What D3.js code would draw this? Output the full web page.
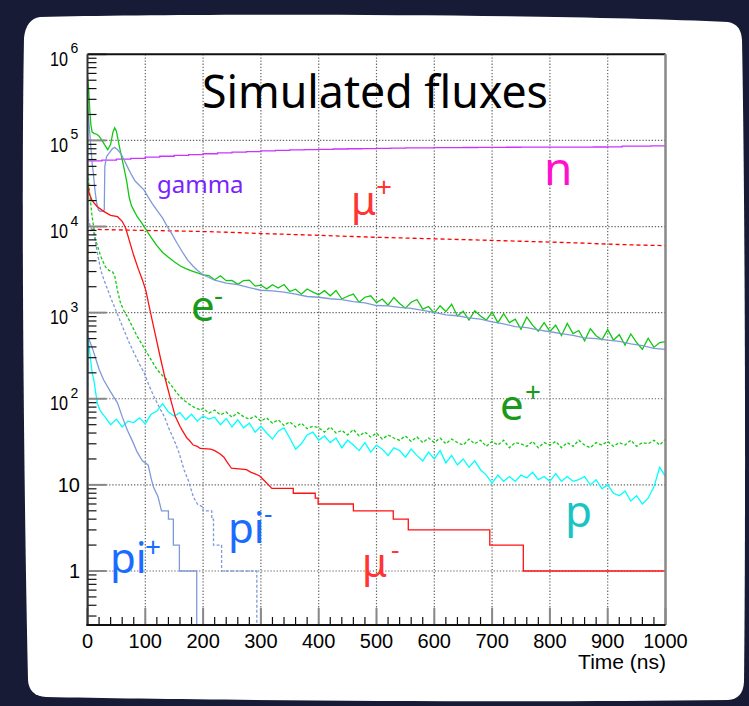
<!DOCTYPE html>
<html>
<head>
<meta charset="utf-8">
<script src="https://cdn.jsdelivr.net/npm/d3@7"></script>
<style>
body{margin:0;background:#171b35;}
svg{display:block;}
</style>
</head>
<body>
<div id="chart"></div>
<script>
// ---- data (time in ns, flux per bin) ----
var nTime=[0,25,50,75,100,125,150,175,200,225,250,275,300,325,350,375,400,425,450,475,500,525,550,575,600,625,650,675,700,725,750,775,800,825,850,875,900,925,950,975,1000];
var nVal=[58000,59000,60500,62000,64000,65500,67000,68500,70000,71500,73000,74000,75500,76500,77500,78000,78800,79500,80000,80500,81000,81400,81800,82100,82400,82600,82800,83000,83200,83300,83400,83500,83600,83700,83800,83900,84000,86000,86000,86200,86200];

var muPlusTime=[0,50,100,150,200,250,300,350,400,450,500,550,600,650,700,750,800,850,900,950,1000];
var muPlusVal=[9300,9150,9000,8900,8750,8550,8300,8100,7900,7700,7500,7350,7200,7050,6900,6750,6600,6450,6250,6100,6000];

var eMinusEarlyTime=[0,2,4,6,8,12,16,20,25,30,35,40,44,47,50,53,56,60,64,68,72,76,80,86,92,98,104,110,120,130,140,150,160,170,180,190,200];
var eMinusEarlyVal=[560000,400000,220000,150000,125000,120000,118000,112000,100000,88000,78000,90000,125000,140000,128000,100000,80000,60000,45000,33000,22000,17500,15500,13000,11500,10000,8600,7500,6000,5000,4400,3900,3500,3250,3050,2900,2750];
// 10 ns bins from 210 to 1000
var eMinusTail=[2700,2410,2680,2350,2370,2130,2360,2390,2030,2090,
  1890,2110,1930,2120,1760,1870,1640,1880,1730,1610,
  1800,1570,1810,1440,1550,1640,1320,1510,1570,1310,
  1440,1220,1500,1275,1125,1320,1420,1100,1180,985,
  1205,1030,1250,915,1040,820,1050,915,820,1010,
  765,975,765,840,640,890,715,610,765,605,
  715,540,750,570,620,470,650,540,485,635,
  480,555,420,565,450,375,505,395,450,460];

var gammaEarlyTime=[0,2,4,6,8,10,13,16,19,22,26,29,30,33,38,43,47,52,58,64,70,76,82,90,98,105,112,120,130,138,146,155,164,173,182,190,200];
var gammaEarlyVal=[250000,180000,120000,80000,55000,42000,26000,18500,15500,15000,15000,15500,50000,65000,72000,80000,83000,78000,70000,58000,48000,40000,34000,30000,26500,22000,18500,15500,12500,10000,8200,6400,5100,4100,3500,3100,2750];
// 20 ns bins from 220 to 1000
var gammaTail=[2380,2200,2120,1950,1820,1790,1730,1640,1540,1510,
  1450,1420,1340,1300,1210,1200,1150,1120,1060,1010,
  940,920,870,840,780,740,690,670,630,600,
  570,545,510,500,480,465,435,415,385,375];

var muMinusTime=[0,3,8,17,28,40,52,60,66,72,80,88,95,101,109,118,127,135,144,152,160,164,172,176,183,190,195,213,220,229,236,241,249,275,283,290,298,307,319,356,356,394,394,399,399,460,460,529,529,555,555,696,696,754,754,1000];
var muMinusVal=[32000,24000,20000,17000,15000,13500,13000,11500,9600,7000,4600,3200,2400,1800,1000,530,280,165,97,62,48,43,35,33,29,28,26.5,26,25,23,21,18.6,15.6,15,14,13.4,12.7,11,9.1,9.1,8,8,7,7,6,6,5,5,4,4,3,3,2,2,1,1];

var piPlusTime=[0,10,20,28,40,52,60,69,78,86,95,100,105,110,114,122,128,140,140,148.5,148.5,159,159,189,189];
var piPlusVal=[550,360,220,165,120,89,62,43,32,24,19,18,17,12,9.5,7.3,5,5,4,4,2,2,1,1,0];

var piMinusTime=[0,5,11,17,23,28.5,40,52,63,72,80.5,89,98,106,115,124,133,141,150,158,167,175,183,190,200,200,215,215,218,218,232,232,293,293];
var piMinusVal=[13000,10000,8300,5000,3100,2400,1500,950,630,450,340,260,200,145,106,80,62,45,33,24,15,11,7.3,6,5.5,5,5,4,4,2,2,1,1,0];

var ePlusEarlyTime=[0,3,8,14,23,31,37,43,47,52,57,63,69,77,86,95,103,112,121,130,138,146,155,164,173,184,196];
var ePlusEarlyVal=[50000,27000,13000,7000,4500,3400,3100,3000,2700,1800,1300,1050,900,700,530,420,340,270,215,185,165,140,116,100,89,80,74];
// 10 ns bins from 200 to 1000
var ePlusTail=[78,68,74,65,70,61,69,62,58,63,
  55,60,52,57,49,54,47,52,45,48,
  46,41,47,40,43,38,44,37,41,36,
  40,34,38,35,33,37,32,36,31,35,
  31,35,30,34,31,29,34,30,33,28,
  32,29,33,27,31,30,28,32,27,31,
  29,32,27,31,28,33,29,27,31,29,
  32,28,31,29,33,28,31,30,33,29,34];

var pEarlyTime=[0,4,8,11,14,17,21,25];
var pEarlyVal=[580,340,200,165,120,89,75,68];
// 10 ns bins from 30 to 1000
var pTail=[62,50,58,47,55,53,60,51,66,72,
  88,70,63,69,57,66,55,63,58,61,
  50,59,47,57,46,52,41,48,40,34,
  42,46,35,26,30,38,41,33,37,31,
  35,27,33,29,25,31,24,29,26,22,
  27,25,21,26,22,19,24,20,25,18,
  22,17,20,16,19,15,13,10.5,13,11,
  12.5,11,13,12,14,11.5,12.5,11,13.5,11,
  12.5,11,11.5,12.5,10,11.5,9,10,8,7.5,
  8.5,6.5,7.5,6,7,9.5,16,12.5];

var xTicks=[0,100,200,300,400,500,600,700,800,900,1000];
var yDecades=[1,10,100,1000,10000,100000,1000000];

// ---- layout ----
var W=749,H=706;
var pL=87.5,pR=665.5,pT=54.3,pB=625;
var yMin=0.236,yMax=1e6;

var x=d3.scaleLinear().domain([0,1000]).range([pL,pR]);
var y=d3.scaleLog().domain([yMin,yMax]).range([pB,pT]);
function yv(v){return y(v<yMin?yMin:v);}

var svg=d3.select("#chart").append("svg").attr("width",W).attr("height",H);

// card
svg.append("path")
  .attr("d","M40,17 C200,13 560,14 728,22 Q741,24 742,40 C745,200 746,500 744,682 Q743,699 728,700 C500,703 200,700 46,697 Q29,696 28,680 C24,500 21,200 24,38 Q26,19 40,17 Z")
  .attr("fill","#ffffff");

svg.append("clipPath").attr("id","plotclip").append("rect")
  .attr("x",pL).attr("y",pT).attr("width",pR-pL).attr("height",pB-pT);

// grid
var grid=svg.append("g").attr("stroke","#666").attr("stroke-width",1.2).attr("stroke-dasharray","1.3,1.8");
grid.selectAll("line.vg").data(xTicks.filter(function(d){return d>0&&d<1000;})).enter().append("line")
  .attr("x1",function(d){return x(d);}).attr("x2",function(d){return x(d);})
  .attr("y1",pT).attr("y2",pB);
grid.selectAll("line.hg").data(yDecades.filter(function(d){return d<yMax;})).enter().append("line")
  .attr("y1",function(d){return y(d);}).attr("y2",function(d){return y(d);})
  .attr("x1",pL).attr("x2",pR);

// series
function bins(t0,dt,vals){return vals.map(function(v,i){return [t0+i*dt,v];});}
function zip(ts,vs){return ts.map(function(t,i){return [t,vs[i]];});}

var series=[
  {pts:zip(nTime,nVal),color:"#cc33ff",dash:null,step:true},
  {pts:zip(muPlusTime,muPlusVal),color:"#ff0000",dash:"4,3"},
  {pts:zip(ePlusEarlyTime,ePlusEarlyVal).concat(bins(200,10,ePlusTail)),color:"#11cc11",dash:"3,2"},
  {pts:zip(pEarlyTime,pEarlyVal).concat(bins(30,10,pTail)),color:"#00ffff",dash:null},
  {pts:zip(eMinusEarlyTime,eMinusEarlyVal).concat(bins(210,10,eMinusTail)),color:"#11c811",dash:null},
  {pts:zip(gammaEarlyTime,gammaEarlyVal).concat(bins(220,20,gammaTail)),color:"#7f9ad8",dash:null},
  {pts:zip(muMinusTime,muMinusVal),color:"#ff1010",dash:null},
  {pts:zip(piMinusTime,piMinusVal),color:"#7f9ad8",dash:"3,2"},
  {pts:zip(piPlusTime,piPlusVal),color:"#7f9ad8",dash:null}
];

var lineGen=d3.line().x(function(d){return x(d[0]);}).y(function(d){return yv(d[1]);});
var plot=svg.append("g").attr("clip-path","url(#plotclip)");
series.forEach(function(s){
  var pts=[[0,0]].concat(s.pts);
  plot.append("path")
    .attr("d",lineGen.curve(s.step?d3.curveStepAfter:d3.curveLinear)(pts))
    .attr("fill","none").attr("stroke",s.color).attr("stroke-width",1.3)
    .attr("stroke-dasharray",s.dash);
});

// ticks
function isMajor(d){return Math.abs(Math.log10(d)-Math.round(Math.log10(d)))<1e-6;}
var yT=y.ticks().filter(function(d){return d>=yMin&&d<=yMax;});
svg.selectAll("line.yt").data(yT).enter().append("line")
  .attr("x1",pL).attr("x2",function(d){return isMajor(d)?pL+19:pL+9;})
  .attr("y1",function(d){return y(d);}).attr("y2",function(d){return y(d);})
  .attr("stroke",function(d){return isMajor(d)?"#888":"#111";})
  .attr("stroke-width",function(d){return isMajor(d)?2:1.2;});
var xT=x.ticks(50);
svg.selectAll("line.xt").data(xT).enter().append("line")
  .attr("x1",function(d){return x(d);}).attr("x2",function(d){return x(d);})
  .attr("y1",pB).attr("y2",function(d){return d%100===0?pB-17:pB-8;})
  .attr("stroke",function(d){return d%100===0?"#888":"#111";})
  .attr("stroke-width",function(d){return d%100===0?2:1.2;});

// frame
svg.append("line").attr("x1",pL).attr("x2",pR).attr("y1",pT).attr("y2",pT).attr("stroke","#111").attr("stroke-width",2);
svg.append("line").attr("x1",pR).attr("x2",pR).attr("y1",pT).attr("y2",pB).attr("stroke","#888").attr("stroke-width",2.5);
svg.append("line").attr("x1",pL).attr("x2",pL).attr("y1",pT).attr("y2",pB+1).attr("stroke","#333").attr("stroke-width",2);
svg.append("line").attr("x1",pL-1).attr("x2",pR).attr("y1",pB).attr("y2",pB).attr("stroke","#111").attr("stroke-width",2);

// axis labels
var axFont="'Liberation Sans', Arial, sans-serif";
svg.selectAll("text.xl").data(xTicks).enter().append("text")
  .attr("x",function(d){return x(d);}).attr("y",648)
  .attr("text-anchor","middle").attr("font-family",axFont).attr("font-size",20)
  .text(function(d){return d;});
svg.append("text").attr("x",666).attr("y",669).attr("text-anchor","end")
  .attr("font-family",axFont).attr("font-size",21).text("Time (ns)");

yDecades.forEach(function(d){
  var e=Math.round(Math.log10(d));
  if(e<=1){
    svg.append("text").attr("x",80).attr("y",y(d)+7.5).attr("text-anchor","end")
      .attr("font-family",axFont).attr("font-size",20).text(d);
  } else {
    svg.append("text").attr("x",50).attr("y",y(d)+11.5)
      .attr("font-family",axFont).attr("font-size",20)
      .attr("textLength",18).attr("lengthAdjust","spacingAndGlyphs").text("10");
    svg.append("text").attr("x",70.5).attr("y",y(d)-1)
      .attr("font-family",axFont).attr("font-size",14).text(e);
  }
});

// title and particle labels
var lbFont="'Noto Sans', 'Open Sans', sans-serif";
svg.append("text").attr("x",202).attr("y",108).attr("font-family",lbFont).attr("font-size",45)
  .attr("textLength",346).attr("lengthAdjust","spacingAndGlyphs").attr("fill","#000").text("Simulated fluxes");

var labels=[
  {t:"gamma",x:157,y:193,s:24,c:"#7a22ff"},
  {t:"\u03bc",x:351,y:215,s:40,c:"#ff3535"},{t:"+",x:376,y:197,s:28,c:"#ff3535"},
  {t:"n",x:544,y:185,s:46,c:"#ff10cc"},
  {t:"e",x:191,y:321,s:42,c:"#1a9a1a"},{t:"-",x:214,y:305,s:28,c:"#1a9a1a"},
  {t:"e",x:500,y:420,s:42,c:"#1a9a1a"},{t:"+",x:525,y:402,s:28,c:"#1a9a1a"},
  {t:"p",x:565,y:527,s:44,c:"#19c4c4"},
  {t:"pi",x:228,y:543,s:42,c:"#1a6cff"},{t:"-",x:264,y:523,s:26,c:"#1a6cff"},
  {t:"pi",x:110,y:573,s:42,c:"#1a6cff"},{t:"+",x:145,y:557,s:28,c:"#1a6cff"},
  {t:"\u03bc",x:362,y:577,s:40,c:"#ff3535"},{t:"-",x:391,y:559,s:26,c:"#ff3535"}
];
svg.selectAll("text.lb").data(labels).enter().append("text")
  .attr("x",function(d){return d.x;}).attr("y",function(d){return d.y;})
  .attr("font-family",lbFont).attr("font-size",function(d){return d.s;})
  .attr("fill",function(d){return d.c;}).text(function(d){return d.t;});
</script>
</body>
</html>
